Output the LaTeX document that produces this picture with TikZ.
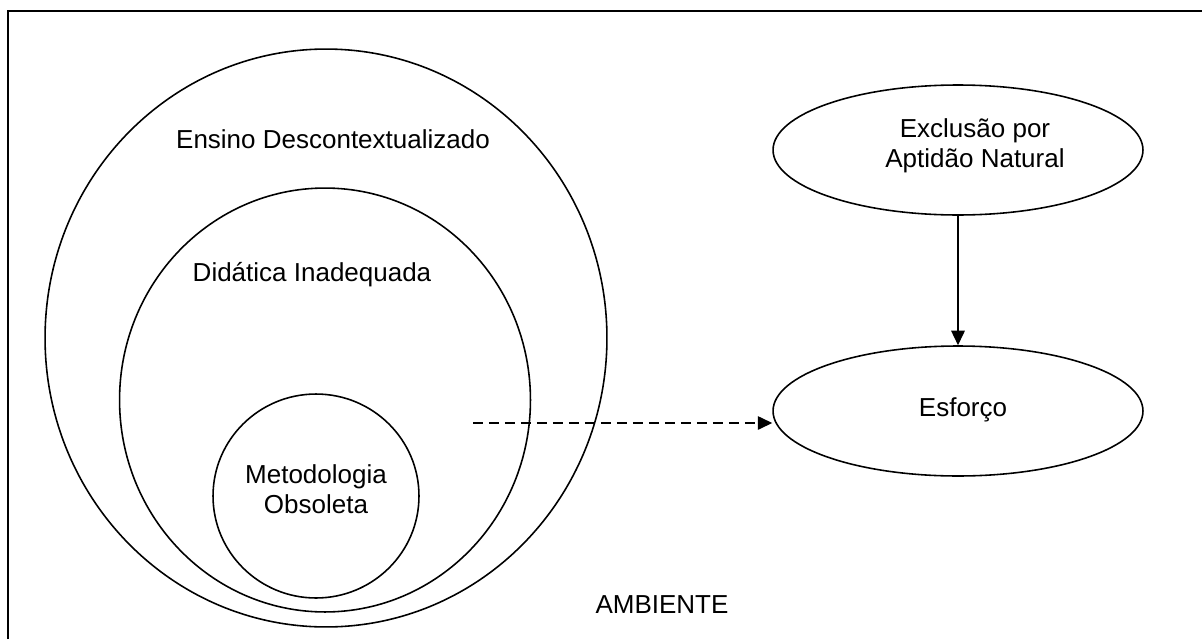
\documentclass[tikz,border=0pt]{standalone}
\usepackage{fontspec}
\setmainfont{Liberation Sans}
\usepackage{tikz}
\usetikzlibrary{shapes,arrows.meta}

\begin{document}
\begin{tikzpicture}[x=0.02cm,y=-0.02cm,line width=0.9pt,
    font=\fontsize{14.8}{17}\selectfont,
    oval/.style={draw,ellipse,inner sep=0pt},
    tip/.style={-{Triangle[length=2.9mm,width=2.7mm]}}]
      \useasboundingbox (0,0) rectangle (1202,639);
      \draw [line width=1.5pt] (8,639) -- (8,11) -- (1202,11);
      % nested circles
      \node (ensino) at (326,338) [oval,minimum width=11.24cm,minimum height=11.56cm] {};
      \node (didatica) at (325,400) [oval,minimum width=8.22cm,minimum height=8.48cm] {};
      \node (metodo) at (316,496) [oval,minimum width=4.12cm,minimum height=4.08cm] {};
      \node (ensinotxt) at (333,139) {Ensino Descontextualizado};
      \node (didaticatxt) at (312,275) {Didática Inadequada};
      \node (metodotxt) at (316,489) [align=center] {Metodologia\\Obsoleta};
      % right side
      \node (exclusao) at (958,150) [oval,minimum width=7.4cm,minimum height=2.6cm] {};
      \node (esforco) at (958,411) [oval,minimum width=7.4cm,minimum height=2.6cm] {};
      \node (exclusaotxt) at (975,146) [align=center] {Exclusão por\\Aptidão Natural};
      \node (esforcotxt) at (963,410) {Esforço};
      \node (ambiente) at (662,605) {AMBIENTE};
      \coordinate (dstart) at (473,423);
      \draw [tip] (exclusao) -- (esforco);
      \draw [tip,dash pattern=on 5.7pt off 3.4pt] (dstart) -- (dstart -| esforco.west);
\end{tikzpicture}
\end{document}
